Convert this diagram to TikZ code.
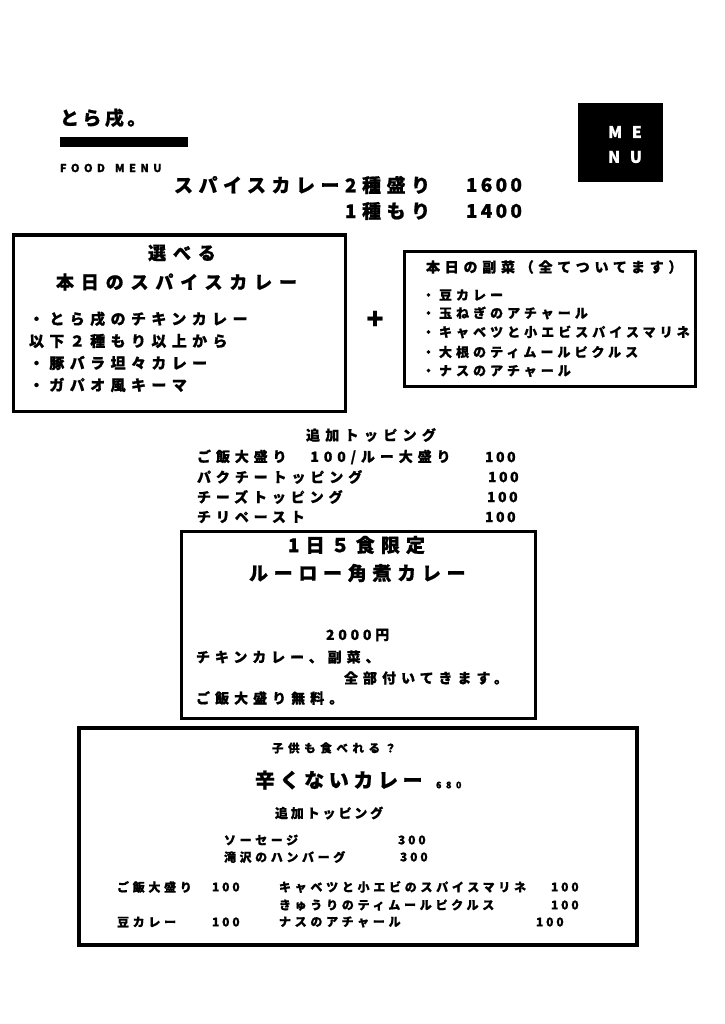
\documentclass[tikz,border=0pt]{standalone}
\usepackage{fontspec}
\setmainfont{Noto Sans CJK JP}
\newcommand\fs[2]{\fontsize{#1}{#1}\selectfont\addfontfeatures{LetterSpace=#2,FakeBold=0.8}}
\tikzset{
  t/.style={inner sep=0pt, outer sep=0pt, text=black},
  w/.style={t, anchor=west},
  e/.style={t, anchor=east},
  frame/.style={draw=black, line width=3pt},
}
\begin{document}
\begin{tikzpicture}[x=1pt,y=-1pt]
\useasboundingbox[fill=white] (0,0) rectangle (724,1024);
% header
\node[w, font=\bfseries\fs{19}{18}] (title) at (60,118) {とら戌。};
\fill[black] (60,137) rectangle (188,147);
\node[w, font=\bfseries\fs{11}{40}] (food) at (60,168) {FOOD\hspace{10pt}MENU};
\fill[black] (578,103) rectangle (663,182);
\node[t, text=white, font=\bfseries\fs{16}{60}] (me) at (625,132) {ME};
\node[t, text=white, font=\bfseries\fs{16}{60}] (nu) at (625,157) {NU};
% prices
\node[w, font=\bfseries\fs{19}{29}] (p1) at (174,185) {スパイスカレー2種盛り};
\coordinate (row2) at (0,211);
\node[e, font=\bfseries\fs{19}{29}] (p2) at (p1.east |- row2) {1種もり};
\node[w, font=\bfseries\fs{19}{17}] (p1v) at (466,185) {1600};
\node[w, font=\bfseries\fs{19}{17}] (p2v) at (466,211) {1400};
% left box
\draw[frame] (13,235) rectangle (345,411);
\node[t, font=\bfseries\fs{18}{38}] (l1) at (182,253) {選べる};
\node[w, font=\bfseries\fs{18}{38}] (l2) at (56,282) {本日のスパイスカレー};
\node[w, font=\bfseries\fs{15}{36}] (l3) at (29,319) {・とら戌のチキンカレー};
\node[w, font=\bfseries\fs{15}{36}] (l4) at (29,341) {以下２種もり以上から};
\node[w, font=\bfseries\fs{15}{36}] (l5) at (29,363) {・豚バラ坦々カレー};
\node[w, font=\bfseries\fs{15}{36}] (l6) at (29,385) {・ガパオ風キーマ};
\node[t, font=\bfseries\fs{28}{0}] (plus) at (375,320) {+};
% right box
\draw[frame] (404,251) rectangle (695,386);
\node[w, font=\bfseries\fs{14}{34}] (r0) at (426,267) {本日の副菜（全てついてます）};
\node[w, font=\bfseries\fs{13}{31}] (r1) at (422,295) {・豆カレー};
\node[w, font=\bfseries\fs{13}{31}] (r2) at (422,313) {・玉ねぎのアチャール};
\node[w, font=\bfseries\fs{13}{31}] (r3) at (422,332) {・キャベツと小エビスパイスマリネ};
\node[w, font=\bfseries\fs{13}{31}] (r4) at (422,352) {・大根のティムールピクルス};
\node[w, font=\bfseries\fs{13}{31}] (r5) at (422,371) {・ナスのアチャール};
% toppings
\node[w, font=\bfseries\fs{14}{38}] (tp) at (306,435) {追加トッピング};
\node[w, font=\bfseries\fs{14}{35}] (t1) at (197,457) {ご飯大盛り　100/ルー大盛り};
\node[w, font=\bfseries\fs{14}{18}] (t1v) at (485,457) {100};
\node[w, font=\bfseries\fs{14}{35}] (t2) at (197,477) {パクチートッピング};
\node[w, font=\bfseries\fs{14}{18}] (t2v) at (488,477) {100};
\node[w, font=\bfseries\fs{14}{35}] (t3) at (197,497) {チーズトッピング};
\node[w, font=\bfseries\fs{14}{18}] (t3v) at (487,497) {100};
\node[w, font=\bfseries\fs{14}{35}] (t4) at (197,517) {チリペースト};
\node[w, font=\bfseries\fs{14}{18}] (t4v) at (485,517) {100};
% middle box
\draw[frame] (181,531) rectangle (535,718);
\node[w, font=\bfseries\fs{19}{32}] (m1) at (288,545) {1日５食限定};
\node[w, font=\bfseries\fs{19}{30}] (m2) at (249,573) {ルーロー角煮カレー};
\node[w, font=\bfseries\fs{14}{27}] (m3) at (326,635) {2000円};
\node[w, font=\bfseries\fs{14}{35}] (m4) at (196,657) {チキンカレー、副菜、};
\node[w, font=\bfseries\fs{14}{36}] (m5) at (344,678) {全部付いてきます。};
\node[w, font=\bfseries\fs{14}{36}] (m6) at (196,698) {ご飯大盛り無料。};
% bottom box
\draw[frame, line width=4pt] (79,728) rectangle (637,945);
\node[w, font=\bfseries\fs{11.5}{40}] (b1) at (272,748) {子供も食べれる？};
\node[w, font=\bfseries\fs{20}{23}] (b2) at (255,780) {辛くないカレー};
\node[w, font=\bfseries\fs{9}{50}] (b2v) at (436,785) {680};
\node[w, font=\bfseries\fs{13}{22}] (b3) at (275,813) {追加トッピング};
\node[w, font=\bfseries\fs{12}{30}] (b4) at (224,840) {ソーセージ};
\node[w, font=\bfseries\fs{12}{24}] (b4v) at (398,840) {300};
\node[w, font=\bfseries\fs{12}{30}] (b5) at (224,857) {滝沢のハンバーグ};
\node[w, font=\bfseries\fs{12}{24}] (b5v) at (400,857) {300};
\node[w, font=\bfseries\fs{12}{31}] (b6) at (117,887) {ご飯大盛り};
\node[w, font=\bfseries\fs{12}{24}] (b6v) at (212,887) {100};
\node[w, font=\bfseries\fs{12}{31}] (b7) at (279,887) {キャベツと小エビのスパイスマリネ};
\node[w, font=\bfseries\fs{12}{24}] (b7v) at (551,887) {100};
\node[w, font=\bfseries\fs{12}{31}] (b8) at (279,905) {きゅうりのティムールピクルス};
\node[w, font=\bfseries\fs{12}{24}] (b8v) at (551,905) {100};
\node[w, font=\bfseries\fs{12}{31}] (b9) at (117,922) {豆カレー};
\node[w, font=\bfseries\fs{12}{24}] (b9v) at (212,922) {100};
\node[w, font=\bfseries\fs{12}{31}] (b10) at (279,922) {ナスのアチャール};
\node[w, font=\bfseries\fs{12}{24}] (b10v) at (536,922) {100};
\end{tikzpicture}
\end{document}
